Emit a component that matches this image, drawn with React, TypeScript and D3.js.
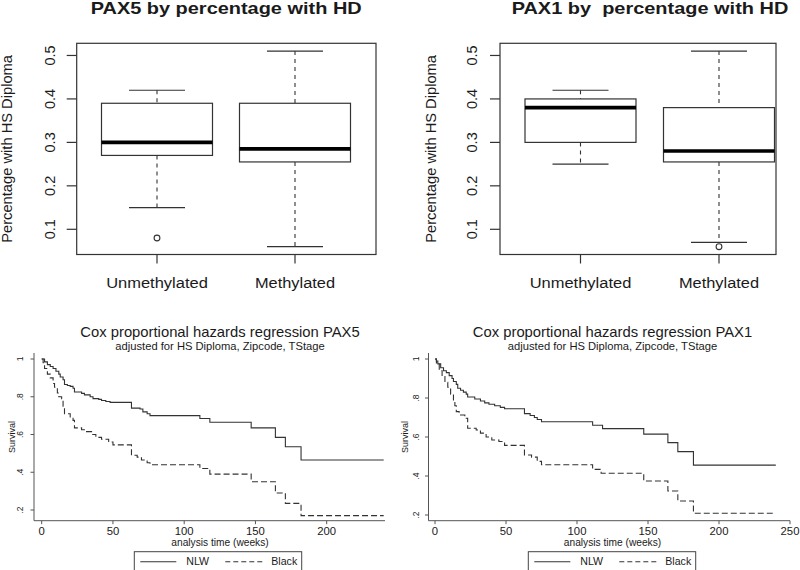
import React from "react";
import * as d3 from "d3";

// ---------- Box plot data (percentage with HS diploma) ----------
const groups = ["Unmethylated", "Methylated"];
const boxYTicks = [0.1, 0.2, 0.3, 0.4, 0.5];

const pax5Low = [0.15, 0.06];
const pax5Q1 = [0.27, 0.255];
const pax5Median = [0.3, 0.285];
const pax5Q3 = [0.39, 0.39];
const pax5High = [0.42, 0.51];
const pax5Outliers = [[0.08], []];

const pax1Low = [0.25, 0.07];
const pax1Q1 = [0.3, 0.255];
const pax1Median = [0.38, 0.28];
const pax1Q3 = [0.4, 0.38];
const pax1High = [0.42, 0.51];
const pax1Outliers = [[], [0.06]];

// ---------- Survival data (time in weeks, survival) ----------
const seriesNames = ["NLW", "Black"];
const survYTicks = [1, 0.8, 0.6, 0.4, 0.2];
const survYTickLabels = ["1", ".8", ".6", ".4", ".2"];
const pax5XTicks = [0, 50, 100, 150, 200];
const pax1XTicks = [0, 50, 100, 150, 200, 250];
const followUpEnd = 240;

const pax5Nlw: [number, number][] = [
  [0, 1], [2, 0.985], [4, 0.97], [6, 0.96], [8, 0.95], [10, 0.935], [12, 0.92],
  [13, 0.905], [15, 0.89], [16, 0.865], [18, 0.86], [20, 0.855], [22, 0.845],
  [23, 0.825], [28, 0.818], [30, 0.81], [34, 0.8], [36, 0.79], [40, 0.786],
  [42, 0.78], [45, 0.775], [48, 0.77], [63, 0.74], [69, 0.735], [71, 0.72],
  [74, 0.71], [76, 0.7], [111, 0.685], [118, 0.665], [147, 0.635], [164, 0.585],
  [171, 0.535], [182, 0.465],
];
const pax5Black: [number, number][] = [
  [0, 1], [1, 0.98], [2, 0.95], [4, 0.92], [6, 0.9], [8, 0.87], [9, 0.85],
  [11, 0.82], [12, 0.8], [14, 0.79], [15, 0.75], [16, 0.71], [20, 0.69],
  [22, 0.675], [23, 0.635], [28, 0.625], [31, 0.615], [35, 0.6], [38, 0.585],
  [42, 0.575], [47, 0.56], [50, 0.545], [63, 0.49], [67, 0.48], [70, 0.465],
  [74, 0.45], [76, 0.44], [111, 0.42], [118, 0.39], [147, 0.35], [164, 0.29],
  [171, 0.235], [182, 0.17],
];
const pax1Nlw: [number, number][] = [
  [0, 1], [1, 0.99], [2, 0.975], [4, 0.955], [6, 0.94], [8, 0.93], [10, 0.915],
  [12, 0.9], [13, 0.885], [15, 0.87], [16, 0.85], [18, 0.84], [20, 0.83],
  [22, 0.82], [23, 0.805], [28, 0.795], [32, 0.785], [35, 0.775], [38, 0.768],
  [42, 0.76], [46, 0.752], [49, 0.745], [63, 0.72], [67, 0.71], [70, 0.7],
  [72, 0.69], [75, 0.678], [111, 0.66], [118, 0.643], [147, 0.615], [164, 0.571],
  [171, 0.525], [182, 0.456],
];
const pax1Black: [number, number][] = [
  [0, 1], [1, 0.98], [3, 0.94], [5, 0.91], [7, 0.88], [9, 0.855], [11, 0.82],
  [13, 0.79], [14, 0.76], [15, 0.73], [17, 0.713], [21, 0.696], [23, 0.645],
  [29, 0.636], [32, 0.62], [36, 0.6], [40, 0.585], [45, 0.577], [49, 0.557],
  [63, 0.508], [68, 0.497], [72, 0.475], [75, 0.458], [111, 0.434], [117, 0.414],
  [147, 0.374], [164, 0.323], [171, 0.272], [182, 0.209],
];

const FONT = "'Liberation Sans', Arial, Helvetica, sans-serif";
const INK = "#1a1a1a";
const LINE = "#333";

const xLabelLen: Record<string, number> = { Unmethylated: 101.7, Methylated: 80 };

type BoxProps = {
  title: string; titleX: number; titleLen: number;
  low: number[]; q1: number[]; med: number[]; q3: number[]; high: number[]; outliers: number[][];
  x0: number; x1: number; centers: [number, number];
  yLabelX: number; tickLabelX: number;
};

function BoxPanel(p: BoxProps) {
  const top = 43.3, bottom = 254.5;
  const all = [...p.low, ...p.high, ...p.outliers.flat()];
  const [mn, mx] = d3.extent(all) as [number, number];
  const pad = (mx - mn) * 0.04;
  const y = d3.scaleLinear().domain([mn - pad, mx + pad]).range([bottom, top]);
  const x = d3.scalePoint<string>().domain(groups).range(p.centers);
  const bw = 111, cw = 56;
  const fmt = d3.format(".1f");
  return (
    <g fontFamily={FONT} fill={INK}>
      <text x={p.titleX} y={13.5} textAnchor="middle" fontWeight="bold" fontSize={17}
        textLength={p.titleLen} lengthAdjust="spacingAndGlyphs" style={{ whiteSpace: "pre" }}>
        {p.title}
      </text>
      <rect x={p.x0} y={top} width={p.x1 - p.x0} height={bottom - top} fill="none" stroke={LINE} strokeWidth={1.2} />
      {boxYTicks.map((t) => (
        <g key={t}>
          <line x1={p.x0 - 10} x2={p.x0} y1={y(t)} y2={y(t)} stroke={LINE} strokeWidth={1.2} />
          <text transform={`translate(${p.tickLabelX},${y(t)}) rotate(-90)`} textAnchor="middle" fontSize={14.5}>
            {fmt(t)}
          </text>
        </g>
      ))}
      <text transform={`translate(${p.yLabelX},${(top + bottom) / 2}) rotate(-90)`} textAnchor="middle" fontSize={14.7}>
        Percentage with HS Diploma
      </text>
      {groups.map((g, i) => {
        const cx = x(g) as number;
        return (
          <g key={g}>
            <line x1={cx} x2={cx} y1={bottom} y2={bottom + 9} stroke={LINE} strokeWidth={1.2} />
            <text x={cx} y={288.3} textAnchor="middle" fontSize={15.3}
              textLength={xLabelLen[g]} lengthAdjust="spacingAndGlyphs">{g}</text>
            <line x1={cx} x2={cx} y1={y(p.high[i])} y2={y(p.q3[i])} stroke={LINE} strokeWidth={1.1} strokeDasharray="4,4" />
            <line x1={cx} x2={cx} y1={y(p.q1[i])} y2={y(p.low[i])} stroke={LINE} strokeWidth={1.1} strokeDasharray="4,4" />
            <line x1={cx - cw / 2} x2={cx + cw / 2} y1={y(p.high[i])} y2={y(p.high[i])} stroke={LINE} strokeWidth={1.2} />
            <line x1={cx - cw / 2} x2={cx + cw / 2} y1={y(p.low[i])} y2={y(p.low[i])} stroke={LINE} strokeWidth={1.2} />
            <rect x={cx - bw / 2} y={y(p.q3[i])} width={bw} height={y(p.q1[i]) - y(p.q3[i])} fill="none" stroke={LINE} strokeWidth={1.2} />
            <line x1={cx - bw / 2} x2={cx + bw / 2} y1={y(p.med[i])} y2={y(p.med[i])} stroke="#000" strokeWidth={3.6} />
            {p.outliers[i].map((o, k) => (
              <circle key={k} cx={cx} cy={y(o)} r={2.9} fill="none" stroke={LINE} strokeWidth={1.1} />
            ))}
          </g>
        );
      })}
    </g>
  );
}

type SurvProps = {
  title: string; nlw: [number, number][]; black: [number, number][];
  xTicks: number[]; xMax: number; xRange: [number, number]; yRange: [number, number];
  axisX0: number; axisX1: number; titleX: number; yTickLabelX: number; survLabelX: number; legendX: number;
};

function SurvPanel(p: SurvProps) {
  const axisTop = 353, axisBottom = 520.7;
  const x = d3.scaleLinear().domain([0, p.xMax]).range(p.xRange);
  const y = d3.scaleLinear().domain([0.2, 1]).range(p.yRange);
  const line = d3.line<[number, number]>().x((d) => x(d[0])).y((d) => y(d[1])).curve(d3.curveStepAfter);
  const ext = (s: [number, number][]) => [...s, [followUpEnd, s[s.length - 1][1]] as [number, number]];
  const L = p.legendX;
  const legY = 561.7;
  return (
    <g fontFamily={FONT} fill={INK}>
      <text x={p.titleX} y={336.7} textAnchor="middle" fontSize={14.8}>{p.title}</text>
      <text x={p.titleX} y={349.5} textAnchor="middle" fontSize={11.2}>adjusted for HS Diploma, Zipcode, TStage</text>
      <line x1={p.axisX0} x2={p.axisX0} y1={axisTop} y2={axisBottom} stroke="#555" strokeWidth={1} />
      <line x1={p.axisX0} x2={p.axisX1} y1={axisBottom} y2={axisBottom} stroke="#555" strokeWidth={1} />
      {survYTicks.map((t, i) => (
        <g key={t}>
          <line x1={p.axisX0 - 3.5} x2={p.axisX0} y1={y(t)} y2={y(t)} stroke="#555" strokeWidth={1} />
          <text transform={`translate(${p.yTickLabelX},${y(t)}) rotate(-90)`} textAnchor="middle" fontSize={8.5}>
            {survYTickLabels[i]}
          </text>
        </g>
      ))}
      <text transform={`translate(${p.survLabelX},437) rotate(-90)`} textAnchor="middle" fontSize={9}>Survival</text>
      {p.xTicks.map((t) => (
        <g key={t}>
          <line x1={x(t)} x2={x(t)} y1={axisBottom} y2={axisBottom + 3.5} stroke="#555" strokeWidth={1} />
          <text x={x(t)} y={535} textAnchor="middle" fontSize={11.3}>{t}</text>
        </g>
      ))}
      <text x={p.titleX} y={545.5} textAnchor="middle" fontSize={10.2}>analysis time (weeks)</text>
      <path d={line(ext(p.nlw)) || ""} fill="none" stroke={LINE} strokeWidth={1.1} />
      <path d={line(ext(p.black)) || ""} fill="none" stroke={LINE} strokeWidth={1.1} strokeDasharray="6,3" />
      <rect x={L} y={551.7} width={167.4} height={30} fill="none" stroke="#444" strokeWidth={1} />
      <line x1={L + 6} x2={L + 42} y1={legY} y2={legY} stroke={LINE} strokeWidth={1.1} />
      <text x={L + 52} y={565.2} fontSize={10.6}>{seriesNames[0]}</text>
      <line x1={L + 91} x2={L + 129} y1={legY} y2={legY} stroke={LINE} strokeWidth={1.1} strokeDasharray="5,3" />
      <text x={L + 137} y={565.2} fontSize={10.6}>{seriesNames[1]}</text>
    </g>
  );
}

export default function App() {
  return (
    <svg width={800} height={570} style={{ position: "absolute", left: 0, top: 0, background: "#fff" }}>
      <rect width={800} height={570} fill="#fff" />
      <BoxPanel title="PAX5 by percentage with HD" titleX={226.2} titleLen={271}
        low={pax5Low} q1={pax5Q1} med={pax5Median} q3={pax5Q3} high={pax5High} outliers={pax5Outliers}
        x0={76.7} x1={376} centers={[157, 295]} yLabelX={12} tickLabelX={54.5} />
      <BoxPanel title="PAX1 by  percentage with HD" titleX={650} titleLen={276.7}
        low={pax1Low} q1={pax1Q1} med={pax1Median} q3={pax1Q3} high={pax1High} outliers={pax1Outliers}
        x0={500} x1={776} centers={[580.5, 719]} yLabelX={435.5} tickLabelX={477} />
      <SurvPanel title="Cox proportional hazards regression PAX5" nlw={pax5Nlw} black={pax5Black}
        xTicks={pax5XTicks} xMax={200} xRange={[41.7, 326.7]} yRange={[510, 359]}
        axisX0={34} axisX1={385} titleX={220} yTickLabelX={23} survLabelX={14.5} legendX={134.3} />
      <SurvPanel title="Cox proportional hazards regression PAX1" nlw={pax1Nlw} black={pax1Black}
        xTicks={pax1XTicks} xMax={250} xRange={[435, 790]} yRange={[515, 359]}
        axisX0={428.5} axisX1={790} titleX={612.5} yTickLabelX={419} survLabelX={408} legendX={528.3} />
    </svg>
  );
}
